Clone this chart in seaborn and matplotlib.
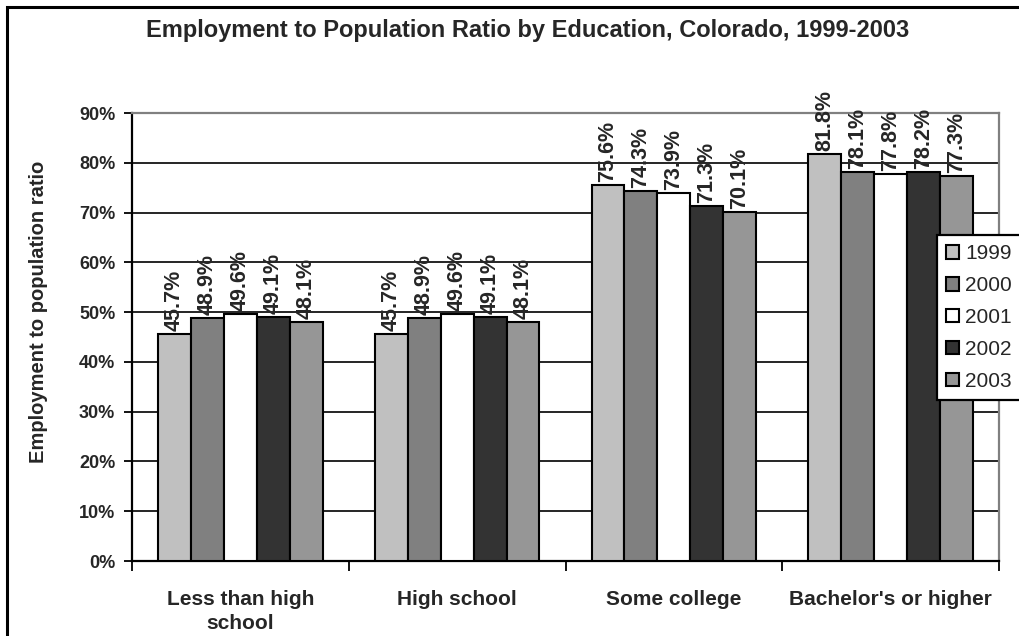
import matplotlib
matplotlib.use("Agg")
import matplotlib.pyplot as plt
from matplotlib.patches import Rectangle
from matplotlib.ticker import MultipleLocator, FuncFormatter
import seaborn as sns
import pandas as pd

# Employment-to-population ratio (%) by education level and year
categories = ["Less than high\nschool", "High school", "Some college", "Bachelor's or higher"]
years = ["1999", "2000", "2001", "2002", "2003"]
ratio_1999 = [45.7, 45.7, 75.6, 81.8]
ratio_2000 = [48.9, 48.9, 74.3, 78.1]
ratio_2001 = [49.6, 49.6, 73.9, 77.8]
ratio_2002 = [49.1, 49.1, 71.3, 78.2]
ratio_2003 = [48.1, 48.1, 70.1, 77.3]
series = [ratio_1999, ratio_2000, ratio_2001, ratio_2002, ratio_2003]

colors = ["#C0C0C0", "#808080", "#FFFFFF", "#333333", "#969696"]

rows = []
for yr, vals in zip(years, series):
    for cat, v in zip(categories, vals):
        rows.append({"Education": cat, "Year": yr, "Ratio": v})
df = pd.DataFrame(rows)

sns.set_theme(style="white")
plt.rcParams["font.family"] = ["Liberation Sans", "DejaVu Sans"]

fig = plt.figure(figsize=(10.2, 6.36), dpi=100)
ax = fig.add_axes([132 / 1020, 1 - 561 / 636, (999 - 132) / 1020, (561 - 113) / 636])

sns.barplot(data=df, x="Education", y="Ratio", hue="Year", order=categories,
            hue_order=years, palette=colors, width=0.76, saturation=1,
            edgecolor="black", linewidth=1.5, errorbar=None, legend=True, ax=ax, zorder=3)

ax.set_ylim(0, 90)
ax.set_xlim(-0.5, len(categories) - 0.5)
ax.yaxis.set_major_locator(MultipleLocator(10))
ax.yaxis.set_major_formatter(FuncFormatter(lambda v, _: f"{v:.0f}%"))
ax.grid(axis="y", color="black", linewidth=1.2, zorder=0)
ax.set_axisbelow(True)

for side in ["left", "bottom"]:
    ax.spines[side].set_color("black")
    ax.spines[side].set_linewidth(1.6)
for side in ["top", "right"]:
    ax.spines[side].set_color("#808080")
    ax.spines[side].set_linewidth(1.6)

ax.tick_params(axis="y", which="major", left=True, length=6, width=1.3, color="black",
               labelsize=13, pad=6)
for lab in ax.get_yticklabels():
    lab.set_fontweight("bold")

# category tick marks sit between groups
ax.set_xticks(range(len(categories)))
ax.set_xticklabels(categories, fontsize=15, fontweight="bold", linespacing=1.35)
ax.tick_params(axis="x", which="major", bottom=False, pad=15)
ax.set_xticks([i - 0.5 for i in range(len(categories) + 1)], minor=True)
ax.tick_params(axis="x", which="minor", bottom=True, length=7, width=1.3, color="black")

ax.set_xlabel("")
ax.set_ylabel("Employment to population ratio", fontsize=14.5, fontweight="bold")
ax.yaxis.set_label_coords(-0.097, 0.556)

# value labels above each bar
for container in ax.containers:
    ax.bar_label(container, labels=[f"{b.get_height():.1f}%" for b in container],
                 rotation=90, fontsize=15.5, fontweight="bold", padding=2)

fig.suptitle("Employment to Population Ratio by Education, Colorado, 1999-2003",
             x=0.517, y=1 - 30 / 636, va="center", fontsize=17, fontweight="bold")

ax.get_legend().remove()
handles = [Rectangle((0, 0), 1, 1, facecolor=c, edgecolor="black", linewidth=1.5) for c in colors]
leg = fig.legend(handles, years, loc="upper left", bbox_to_anchor=(937 / 1020, 1 - 235 / 636),
                 bbox_transform=fig.transFigure, fontsize=15, frameon=True, fancybox=False,
                 handlelength=0.6, handleheight=0.6, handletextpad=0.3, labelspacing=0.62,
                 borderpad=0.45, borderaxespad=0, framealpha=1)
leg.get_frame().set_edgecolor("black")
leg.get_frame().set_linewidth(1.6)
leg.set_zorder(10)

# chart border
fig.patches.append(Rectangle((7.5 / 1020, -0.1), 1.2, 1 - 7 / 636 + 0.1, transform=fig.transFigure,
                             fill=False, edgecolor="black", linewidth=2.2))

fig.savefig("out.png", dpi=100)
